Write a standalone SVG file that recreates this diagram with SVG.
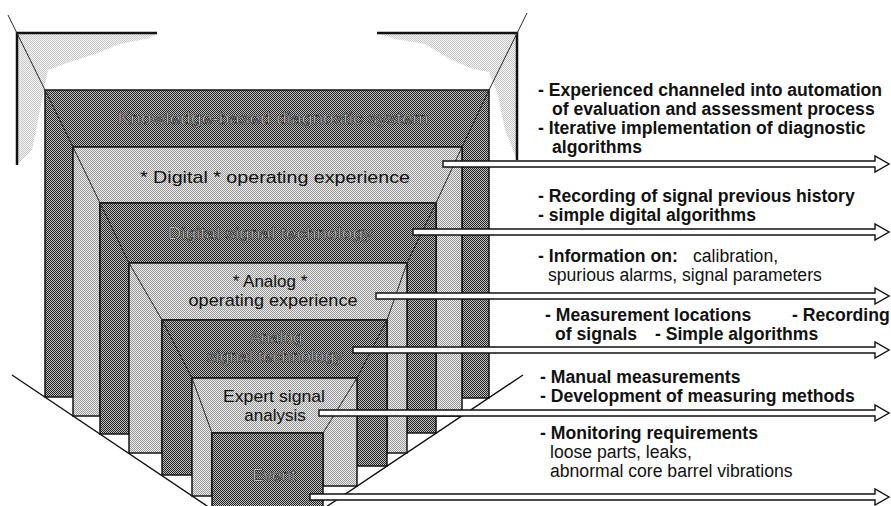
<svg xmlns="http://www.w3.org/2000/svg" width="891" height="506" viewBox="0 0 891 506">
<defs>
<pattern id="pd" width="2" height="2" patternUnits="userSpaceOnUse"><rect width="2" height="2" fill="#c0c0c0"/><rect width="1" height="1" fill="#222"/><rect x="1" y="1" width="1" height="1" fill="#222"/></pattern>
<pattern id="pl" width="2" height="2" patternUnits="userSpaceOnUse"><rect width="2" height="2" fill="#f0f0f0"/><rect width="1" height="1" fill="#959595"/><rect x="1" y="1" width="1" height="1" fill="#959595"/></pattern>
<style>
.dark{fill:url(#pd);stroke:#141414;stroke-width:1.5}
.light{fill:url(#pl);stroke:#141414;stroke-width:1.5}
.edge{stroke:#2a2a2a;stroke-width:1;fill:none}
.frame{stroke:#111;stroke-width:2.5;fill:none}
.lbl{font-family:"Liberation Sans",Arial,sans-serif;font-size:17px;text-anchor:middle}
.ld{fill:#f0f0f0;stroke:#2a2a2a;stroke-width:0.7}
.ll{fill:#111}
.note{font-family:"Liberation Sans",Arial,sans-serif;font-size:17.6px;fill:#111}
.b{font-weight:bold}
.arrow{fill:#fff;stroke:#111;stroke-width:1.4}
</style>
</defs>
<rect width="891" height="506" fill="#fff"/>

<g id="frame">
<path d="M17,33 H157 L150,38 L120,44 L95,54 L70,62 L48,70 L40,110 L32,150 L17,165 Z" fill="url(#pl)" opacity="0.55"/>
<path d="M377,33 H517 V160 L505,130 L498,95 L489,72 L470,68 L448,58 L425,44 L395,39 Z" fill="url(#pl)" opacity="0.55"/>
<path class="frame" d="M17,165 V33 H157 M377,33 H517 V160"/>
<path class="edge" d="M8,15 L45,90 M527,13 L489,90"/>
</g>

<g id="n1"><path class="dark" d="M45,90 H489 V398 H462 V147 H73 V397 H45 Z"/><text class="lbl ld" x="273" y="124" textLength="311" lengthAdjust="spacingAndGlyphs">Knowledge-based diagnostic system</text></g>
<g id="n2"><path class="light" d="M73,147 H462 V416 H436 V203 H100 V416 H73 Z"/><text class="lbl ll" x="275" y="183" textLength="270" lengthAdjust="spacingAndGlyphs">* Digital * operating experience</text></g>
<g id="n3"><path class="dark" d="M100,203 H436 V433 H407 V263 H129 V434 H100 Z"/><text class="lbl ld" x="270" y="239" textLength="205" lengthAdjust="spacingAndGlyphs">Digital signal technology</text></g>
<g id="n4"><path class="light" d="M129,263 H407 V453 H387 V320 H162 V453 H129 Z"/><text class="lbl ll" x="270" y="287">* Analog *</text><text class="lbl ll" x="273" y="306" textLength="169" lengthAdjust="spacingAndGlyphs">operating experience</text></g>
<g id="n5"><path class="dark" d="M162,320 H387 V466 H357 V378 H192 V475 H162 Z"/><text class="lbl ld" x="276" y="343">Analog</text><text class="lbl ld" x="275" y="362" textLength="136" lengthAdjust="spacingAndGlyphs">signal technology</text></g>
<g id="n6"><path class="light" d="M192,378 H357 V486 H323 V433 H212 V496 H192 Z"/><text class="lbl ll" x="274" y="402" textLength="102" lengthAdjust="spacingAndGlyphs">Expert signal</text><text class="lbl ll" x="275" y="421">analysis</text></g>
<g id="n7"><path class="dark" d="M212,433 H323 V512 H212 Z"/><text class="lbl ld" x="274" y="481">Event</text></g>

<g id="edges">
<path class="edge" d="M45,90 L73,147 L100,203 L129,263 L162,320 L192,378 L212,433"/>
<path class="edge" d="M489,90 L462,147 L436,203 L407,263 L387,320 L357,378 L323,433"/>
<path d="M12,375 L213,510 M523,375 L326,507" stroke="#111" stroke-width="1.4" fill="none"/>
</g>

<g id="connectors">
<path class="arrow" d="M443,161 H875 V156 L889,164 L875,172 V167 H443 Z"/>
<path class="arrow" d="M413,229 H875 V224 L889,232 L875,240 V235 H413 Z"/>
<path class="arrow" d="M376,293 H875 V288 L889,296 L875,304 V299 H376 Z"/>
<path class="arrow" d="M353,347 H875 V342 L889,350 L875,358 V353 H353 Z"/>
<path class="arrow" d="M319,410 H875 V405 L889,413 L875,421 V416 H319 Z"/>
<path class="arrow" d="M310,494 H875 V489 L889,497 L875,505 V500 H310 Z"/>
</g>

<g id="notes">
<text class="note b" x="538" y="96">- Experienced channeled into automation</text>
<text class="note b" x="552" y="115">of evaluation and assessment process</text>
<text class="note b" x="538" y="134">- Iterative implementation of diagnostic</text>
<text class="note b" x="552" y="153">algorithms</text>
<text class="note b" x="538" y="202">- Recording of signal previous history</text>
<text class="note b" x="538" y="221">- simple digital algorithms</text>
<text class="note" x="538" y="262"><tspan class="b">- Information on:</tspan><tspan x="693">calibration,</tspan></text>
<text class="note" x="548" y="281">spurious alarms, signal parameters</text>
<text class="note b" x="545" y="321">- Measurement locations<tspan x="792">- Recording</tspan></text>
<text class="note b" x="555" y="340">of signals<tspan x="655">- Simple algorithms</tspan></text>
<text class="note b" x="540" y="383">- Manual measurements</text>
<text class="note b" x="540" y="402">- Development of measuring methods</text>
<text class="note b" x="540" y="439">- Monitoring requirements</text>
<text class="note" x="550" y="458">loose parts, leaks,</text>
<text class="note" x="550" y="477">abnormal core barrel vibrations</text>
</g>
</svg>
